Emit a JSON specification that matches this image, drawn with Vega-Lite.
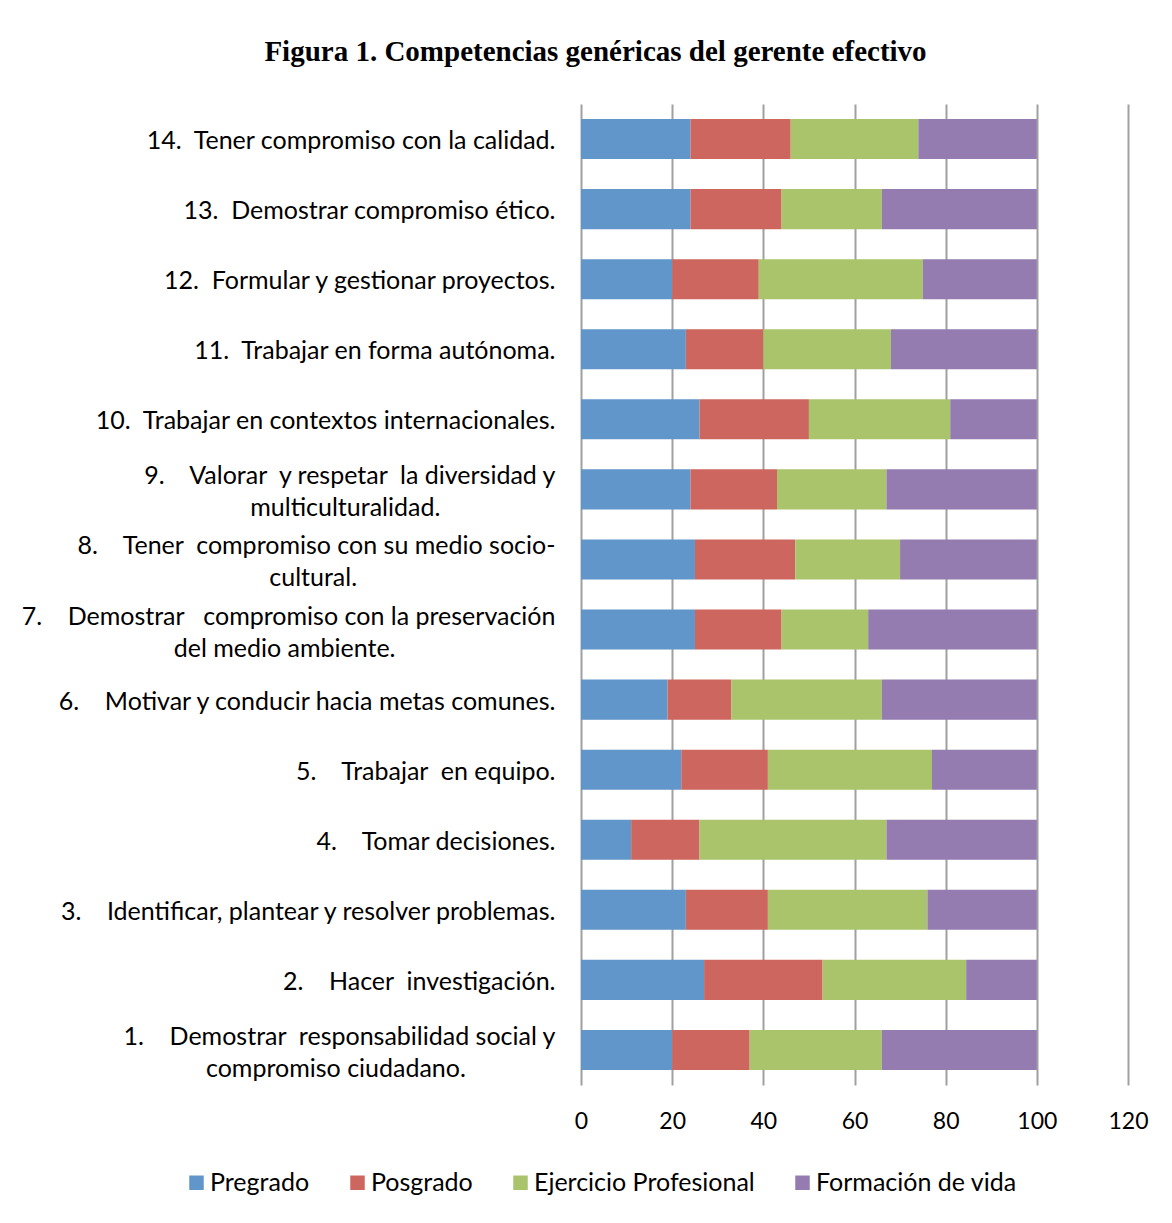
{
  "$schema": "https://vega.github.io/schema/vega-lite/v6.json",
  "autosize": {"type": "none"},
  "width": 547,
  "height": 981,
  "padding": {"left": 581, "top": 104, "right": 44, "bottom": 138},
  "background": "white",
  "title": {
    "text": "Figura 1. Competencias genéricas del gerente efectivo",
    "font": "Liberation Serif",
    "fontSize": 29,
    "fontWeight": "bold",
    "color": "black",
    "anchor": "middle",
    "dx": -259,
    "offset": 37
  },
  "data": {
    "values": [
      {"n": 14, "item": "14.\u00a0 Tener compromiso con la calidad.", "serie": "Pregrado", "valor": 24},
      {"n": 14, "item": "14.\u00a0 Tener compromiso con la calidad.", "serie": "Posgrado", "valor": 22},
      {"n": 14, "item": "14.\u00a0 Tener compromiso con la calidad.", "serie": "Ejercicio Profesional", "valor": 28},
      {"n": 14, "item": "14.\u00a0 Tener compromiso con la calidad.", "serie": "Formación de vida", "valor": 26},
      {"n": 13, "item": "13.\u00a0 Demostrar compromiso ético.", "serie": "Pregrado", "valor": 24},
      {"n": 13, "item": "13.\u00a0 Demostrar compromiso ético.", "serie": "Posgrado", "valor": 20},
      {"n": 13, "item": "13.\u00a0 Demostrar compromiso ético.", "serie": "Ejercicio Profesional", "valor": 22},
      {"n": 13, "item": "13.\u00a0 Demostrar compromiso ético.", "serie": "Formación de vida", "valor": 34},
      {"n": 12, "item": "12.\u00a0 Formular y gestionar proyectos.", "serie": "Pregrado", "valor": 20},
      {"n": 12, "item": "12.\u00a0 Formular y gestionar proyectos.", "serie": "Posgrado", "valor": 19},
      {"n": 12, "item": "12.\u00a0 Formular y gestionar proyectos.", "serie": "Ejercicio Profesional", "valor": 36},
      {"n": 12, "item": "12.\u00a0 Formular y gestionar proyectos.", "serie": "Formación de vida", "valor": 25},
      {"n": 11, "item": "11.\u00a0 Trabajar en forma autónoma.", "serie": "Pregrado", "valor": 23},
      {"n": 11, "item": "11.\u00a0 Trabajar en forma autónoma.", "serie": "Posgrado", "valor": 17},
      {"n": 11, "item": "11.\u00a0 Trabajar en forma autónoma.", "serie": "Ejercicio Profesional", "valor": 28},
      {"n": 11, "item": "11.\u00a0 Trabajar en forma autónoma.", "serie": "Formación de vida", "valor": 32},
      {"n": 10, "item": "10.\u00a0 Trabajar en contextos internacionales.", "serie": "Pregrado", "valor": 26},
      {"n": 10, "item": "10.\u00a0 Trabajar en contextos internacionales.", "serie": "Posgrado", "valor": 24},
      {"n": 10, "item": "10.\u00a0 Trabajar en contextos internacionales.", "serie": "Ejercicio Profesional", "valor": 31},
      {"n": 10, "item": "10.\u00a0 Trabajar en contextos internacionales.", "serie": "Formación de vida", "valor": 19},
      {"n": 9, "item": "9.\u00a0\u00a0\u00a0 Valorar\u00a0 y respetar\u00a0 la diversidad y|multiculturalidad.", "serie": "Pregrado", "valor": 24},
      {"n": 9, "item": "9.\u00a0\u00a0\u00a0 Valorar\u00a0 y respetar\u00a0 la diversidad y|multiculturalidad.", "serie": "Posgrado", "valor": 19},
      {"n": 9, "item": "9.\u00a0\u00a0\u00a0 Valorar\u00a0 y respetar\u00a0 la diversidad y|multiculturalidad.", "serie": "Ejercicio Profesional", "valor": 24},
      {"n": 9, "item": "9.\u00a0\u00a0\u00a0 Valorar\u00a0 y respetar\u00a0 la diversidad y|multiculturalidad.", "serie": "Formación de vida", "valor": 33},
      {"n": 8, "item": "8.\u00a0\u00a0\u00a0 Tener\u00a0 compromiso con su medio socio-|cultural.", "serie": "Pregrado", "valor": 25},
      {"n": 8, "item": "8.\u00a0\u00a0\u00a0 Tener\u00a0 compromiso con su medio socio-|cultural.", "serie": "Posgrado", "valor": 22},
      {"n": 8, "item": "8.\u00a0\u00a0\u00a0 Tener\u00a0 compromiso con su medio socio-|cultural.", "serie": "Ejercicio Profesional", "valor": 23},
      {"n": 8, "item": "8.\u00a0\u00a0\u00a0 Tener\u00a0 compromiso con su medio socio-|cultural.", "serie": "Formación de vida", "valor": 30},
      {"n": 7, "item": "7.\u00a0\u00a0\u00a0 Demostrar\u00a0\u00a0 compromiso con la preservación|del medio ambiente.", "serie": "Pregrado", "valor": 25},
      {"n": 7, "item": "7.\u00a0\u00a0\u00a0 Demostrar\u00a0\u00a0 compromiso con la preservación|del medio ambiente.", "serie": "Posgrado", "valor": 19},
      {"n": 7, "item": "7.\u00a0\u00a0\u00a0 Demostrar\u00a0\u00a0 compromiso con la preservación|del medio ambiente.", "serie": "Ejercicio Profesional", "valor": 19},
      {"n": 7, "item": "7.\u00a0\u00a0\u00a0 Demostrar\u00a0\u00a0 compromiso con la preservación|del medio ambiente.", "serie": "Formación de vida", "valor": 37},
      {"n": 6, "item": "6.\u00a0\u00a0\u00a0 Motivar y conducir hacia metas comunes.", "serie": "Pregrado", "valor": 19},
      {"n": 6, "item": "6.\u00a0\u00a0\u00a0 Motivar y conducir hacia metas comunes.", "serie": "Posgrado", "valor": 14},
      {"n": 6, "item": "6.\u00a0\u00a0\u00a0 Motivar y conducir hacia metas comunes.", "serie": "Ejercicio Profesional", "valor": 33},
      {"n": 6, "item": "6.\u00a0\u00a0\u00a0 Motivar y conducir hacia metas comunes.", "serie": "Formación de vida", "valor": 34},
      {"n": 5, "item": "5.\u00a0\u00a0\u00a0 Trabajar\u00a0 en equipo.", "serie": "Pregrado", "valor": 22},
      {"n": 5, "item": "5.\u00a0\u00a0\u00a0 Trabajar\u00a0 en equipo.", "serie": "Posgrado", "valor": 19},
      {"n": 5, "item": "5.\u00a0\u00a0\u00a0 Trabajar\u00a0 en equipo.", "serie": "Ejercicio Profesional", "valor": 36},
      {"n": 5, "item": "5.\u00a0\u00a0\u00a0 Trabajar\u00a0 en equipo.", "serie": "Formación de vida", "valor": 23},
      {"n": 4, "item": "4.\u00a0\u00a0\u00a0 Tomar decisiones.", "serie": "Pregrado", "valor": 11},
      {"n": 4, "item": "4.\u00a0\u00a0\u00a0 Tomar decisiones.", "serie": "Posgrado", "valor": 15},
      {"n": 4, "item": "4.\u00a0\u00a0\u00a0 Tomar decisiones.", "serie": "Ejercicio Profesional", "valor": 41},
      {"n": 4, "item": "4.\u00a0\u00a0\u00a0 Tomar decisiones.", "serie": "Formación de vida", "valor": 33},
      {"n": 3, "item": "3.\u00a0\u00a0\u00a0 Identificar, plantear y resolver problemas.", "serie": "Pregrado", "valor": 23},
      {"n": 3, "item": "3.\u00a0\u00a0\u00a0 Identificar, plantear y resolver problemas.", "serie": "Posgrado", "valor": 18},
      {"n": 3, "item": "3.\u00a0\u00a0\u00a0 Identificar, plantear y resolver problemas.", "serie": "Ejercicio Profesional", "valor": 35},
      {"n": 3, "item": "3.\u00a0\u00a0\u00a0 Identificar, plantear y resolver problemas.", "serie": "Formación de vida", "valor": 24},
      {"n": 2, "item": "2.\u00a0\u00a0\u00a0 Hacer\u00a0 investigación.", "serie": "Pregrado", "valor": 27},
      {"n": 2, "item": "2.\u00a0\u00a0\u00a0 Hacer\u00a0 investigación.", "serie": "Posgrado", "valor": 26},
      {"n": 2, "item": "2.\u00a0\u00a0\u00a0 Hacer\u00a0 investigación.", "serie": "Ejercicio Profesional", "valor": 31.5},
      {"n": 2, "item": "2.\u00a0\u00a0\u00a0 Hacer\u00a0 investigación.", "serie": "Formación de vida", "valor": 15.5},
      {"n": 1, "item": "1.\u00a0\u00a0\u00a0 Demostrar\u00a0 responsabilidad social y|compromiso ciudadano.", "serie": "Pregrado", "valor": 20},
      {"n": 1, "item": "1.\u00a0\u00a0\u00a0 Demostrar\u00a0 responsabilidad social y|compromiso ciudadano.", "serie": "Posgrado", "valor": 17},
      {"n": 1, "item": "1.\u00a0\u00a0\u00a0 Demostrar\u00a0 responsabilidad social y|compromiso ciudadano.", "serie": "Ejercicio Profesional", "valor": 29},
      {"n": 1, "item": "1.\u00a0\u00a0\u00a0 Demostrar\u00a0 responsabilidad social y|compromiso ciudadano.", "serie": "Formación de vida", "valor": 34}
    ]
  },
  "transform": [
    {"calculate": "indexof(['Pregrado','Posgrado','Ejercicio Profesional','Formación de vida'], datum.serie)", "as": "orden"}
  ],
  "mark": {"type": "bar"},
  "encoding": {
    "y": {
      "field": "item",
      "type": "nominal",
      "sort": {"field": "n", "op": "max", "order": "descending"},
      "scale": {"paddingInner": 0.428, "paddingOuter": 0.214},
      "title": null,
      "axis": {
        "domain": false,
        "ticks": false,
        "grid": false,
        "labelFont": "Lato",
        "labelFontSize": 25,
        "labelColor": "black",
        "labelPadding": 26,
        "labelLimit": 800,
        "labelLineHeight": 32,
        "labelBaseline": "middle",
        "labelOffset": {"condition": {"test": "indexof(datum.value, '|') >= 0", "value": -13}, "value": 2},
        "labelExpr": "indexof(datum.value, '|') < 0 ? datum.value : [split(datum.value, '|')[0], pad(split(datum.value, '|')[1], length(split(datum.value, '|')[1]) + (slice(datum.value, 0, 2) == '9.' ? 18 : slice(datum.value, 0, 2) == '8.' ? 31 : slice(datum.value, 0, 2) == '7.' ? 25 : 14), '\u00a0') + '\u2060']"
      }
    },
    "x": {
      "field": "valor",
      "type": "quantitative",
      "stack": "zero",
      "scale": {"domain": [0, 120], "nice": false},
      "title": null,
      "axis": {
        "values": [0, 20, 40, 60, 80, 100, 120],
        "grid": true,
        "gridColor": "#a0a0a0",
        "gridWidth": 2,
        "domain": false,
        "ticks": false,
        "labelFlush": false,
        "labelFont": "Lato",
        "labelFontSize": 23,
        "labelColor": "black",
        "labelPadding": 25
      }
    },
    "color": {
      "field": "serie",
      "type": "nominal",
      "scale": {
        "domain": ["Pregrado", "Posgrado", "Ejercicio Profesional", "Formación de vida"],
        "range": ["#6196CA", "#CD665E", "#AAC46C", "#947BB0"]
      },
      "title": null,
      "legend": {
        "orient": "none",
        "legendX": -397,
        "legendY": 1066,
        "direction": "horizontal",
        "columns": 4,
        "symbolType": "square",
        "symbolSize": 210,
        "symbolStrokeWidth": 0,
        "symbolOpacity": 1,
        "labelFont": "Lato",
        "labelFontSize": 25,
        "labelColor": "black",
        "labelLimit": 600,
        "labelOffset": 1,
        "columnPadding": 35
      }
    },
    "order": {"field": "orden", "type": "quantitative"}
  },
  "config": {"view": {"stroke": null}}
}
